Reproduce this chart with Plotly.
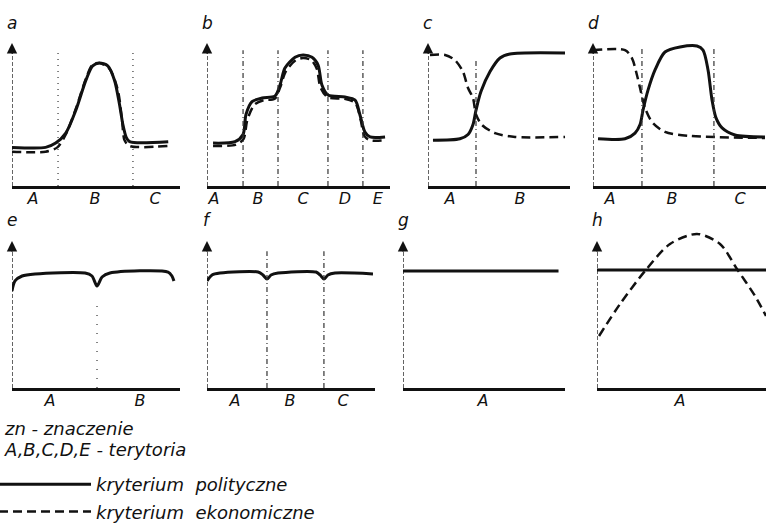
import plotly.graph_objects as go

W, H = 766, 526

# ---------------- data (value units: 0..10 along each small axis) ----------------
panel_names = ["a", "b", "c", "d", "e", "f", "g", "h"]

a_x = [0, 2.0, 2.6, 3.2, 3.8, 4.4, 4.8, 5.2, 5.7, 6.1, 6.4, 6.6, 6.8, 7.0, 9.3]
a_pol = [2.7, 2.7, 3.0, 3.7, 5.3, 7.4, 8.4, 8.6, 8.4, 7.4, 5.7, 4.3, 3.4, 3.1, 3.1]
a_eco_x = [0, 2.0, 2.7, 3.2, 3.8, 4.4, 4.8, 5.2, 5.8, 6.3, 6.55, 6.7, 7.0, 9.3]
a_eco = [2.4, 2.4, 2.7, 3.6, 5.4, 7.5, 8.5, 8.6, 8.2, 6.7, 4.6, 3.2, 2.8, 2.8]
a_sep = [2.74, 7.2]
a_ticks = [1.25, 4.94, 8.51]
a_labels = ["A", "B", "C"]

b_x = [0.33, 1.53, 1.97, 2.13, 2.46, 3.01, 3.72, 3.99, 4.26, 4.81, 5.25, 5.74, 6.07, 6.28, 6.61, 7.54, 8.09, 8.36, 8.63, 8.91, 9.73]
b_pol = [3.0, 3.1, 3.6, 5.0, 5.9, 6.15, 6.3, 7.06, 8.25, 9.0, 9.16, 9.0, 8.46, 7.06, 6.36, 6.22, 6.01, 4.97, 3.78, 3.43, 3.43]
b_eco_x = [0.33, 1.6, 2.0, 2.2, 2.6, 3.1, 3.7, 4.0, 4.3, 4.85, 5.25, 5.7, 6.0, 6.2, 6.6, 7.5, 8.1, 8.4, 8.6, 8.9, 9.8]
b_eco = [2.8, 2.9, 3.3, 4.6, 5.7, 6.0, 6.1, 6.9, 8.0, 8.8, 8.95, 8.8, 8.2, 6.9, 6.2, 6.1, 5.8, 4.6, 3.5, 3.2, 3.2]
b_sep = [1.97, 3.88, 6.61, 8.52]
b_ticks = [0.38, 2.79, 5.25, 7.54, 9.34]
b_labels = ["A", "B", "C", "D", "E"]

c_x = [0.35, 2.25, 2.82, 3.17, 3.38, 3.73, 4.37, 5.07, 5.77, 9.65]
c_pol = [3.2, 3.3, 3.6, 4.3, 5.3, 6.6, 8.0, 8.95, 9.23, 9.3]
c_eco_x = [0.14, 1.2, 1.9, 2.46, 2.82, 3.17, 3.38, 3.8, 4.72, 6.13, 9.65]
c_eco = [9.16, 9.16, 8.8, 8.0, 6.85, 6.15, 5.0, 4.27, 3.7, 3.43, 3.43]
c_sep = [3.38]
c_ticks = [1.55, 6.48]
c_labels = ["A", "B"]

d_x = [0.29, 1.85, 2.43, 2.72, 2.89, 3.18, 3.58, 4.16, 5.03, 6.01, 6.36, 6.65, 6.88, 7.11, 7.46, 8.21, 9.94]
d_pol = [3.3, 3.3, 3.7, 4.3, 5.3, 6.7, 8.1, 9.37, 9.72, 9.79, 9.51, 8.11, 6.01, 4.76, 4.06, 3.57, 3.43]
d_eco_x = [0, 1.85, 2.25, 2.54, 2.72, 3.01, 3.41, 4.16, 5.61, 9.94]
d_eco = [9.5, 9.5, 8.95, 7.76, 6.85, 5.45, 4.48, 3.78, 3.5, 3.36]
d_sep = [2.83, 6.99]
d_ticks = [0.98, 4.57, 8.5]
d_labels = ["A", "B", "C"]

e_x = [0, 0.18, 0.6, 1.37, 4.35, 4.76, 5.06, 5.36, 5.83, 9.29, 9.52, 9.64]
e_pol = [6.6, 7.28, 7.62, 7.76, 7.82, 7.62, 6.94, 7.55, 7.82, 7.89, 7.62, 7.28]
e_sep = [5.06]
e_ticks = [2.26, 7.62]
e_labels = ["A", "B"]

f_x = [0, 0.3, 0.77, 3.04, 3.33, 3.57, 3.81, 4.23, 6.49, 6.73, 6.96, 7.2, 7.62, 9.88]
f_pol = [7.28, 7.69, 7.82, 7.89, 7.69, 7.41, 7.69, 7.82, 7.89, 7.69, 7.41, 7.69, 7.82, 7.76]
f_sep = [3.57, 6.96]
f_ticks = [1.67, 4.94, 8.1]
f_labels = ["A", "B", "C"]

g_x = [0, 9.6]
g_pol = [7.96, 7.96]
g_ticks = [4.94]
g_labels = ["A"]

h_x = [0, 10]
h_pol = [8.03, 8.03]
h_eco_x = [0.12, 1.36, 2.84, 4.32, 5.92, 7.28, 8.28, 9.35, 10.0]
h_eco = [3.54, 5.71, 7.96, 9.8, 10.48, 9.8, 8.1, 6.26, 4.9]
h_ticks = [4.91]
h_labels = ["A"]

legend_names = ["kryterium  polityczne", "kryterium  ekonomiczne"]
notes = ["zn - znaczenie", "A,B,C,D,E - terytoria"]

# ---------------- layout geometry (pixels) ----------------
rows_px = {1: (186, 14.3), 2: (388, 14.7)}  # baseline, px per unit
panels = [
    dict(name="a", row=1, x0=12, x1=180, pol=(a_x, a_pol), eco=(a_eco_x, a_eco), sep=a_sep, septop=9.4, ticks=(a_ticks, a_labels), sepdash="1px,5px"),
    dict(name="b", row=1, x0=207, x1=390, pol=(b_x, b_pol), eco=(b_eco_x, b_eco), sep=b_sep, septop=9.5, ticks=(b_ticks, b_labels), sepdash="5px,3px,1px,3px"),
    dict(name="c", row=1, x0=428, x1=570, pol=(c_x, c_pol), eco=(c_eco_x, c_eco), sep=c_sep, septop=8.8, ticks=(c_ticks, c_labels), sepdash="5px,3px,1px,3px"),
    dict(name="d", row=1, x0=593, x1=766, pol=(d_x, d_pol), eco=(d_eco_x, d_eco), sep=d_sep, septop=9.6, ticks=(d_ticks, d_labels), sepdash="5px,3px,1px,3px"),
    dict(name="e", row=2, x0=12, x1=180, pol=(e_x, e_pol), eco=None, sep=e_sep, septop=5.8, ticks=(e_ticks, e_labels), sepdash="1px,8px"),
    dict(name="f", row=2, x0=207, x1=375, pol=(f_x, f_pol), eco=None, sep=f_sep, septop=9.3, ticks=(f_ticks, f_labels), sepdash="5px,3px,1px,3px"),
    dict(name="g", row=2, x0=403, x1=565, pol=(g_x, g_pol), eco=None, sep=[], septop=9, ticks=(g_ticks, g_labels), sepdash="dash"),
    dict(name="h", row=2, x0=597, x1=766, pol=(h_x, h_pol), eco=(h_eco_x, h_eco), sep=[], septop=9, ticks=(h_ticks, h_labels), sepdash="dash"),
]

FONT = "DejaVu Sans"
INK = "#111111"
LBL = dict(family=FONT, size=16, color=INK, style="italic")
TXT = dict(family=FONT, size=18, color=INK, style="italic")

fig = go.Figure()
layout = dict(
    width=W, height=H, margin=dict(l=0, r=0, t=0, b=0, autoexpand=False),
    paper_bgcolor="white", plot_bgcolor="white",
    font=LBL,
    showlegend=True,
    legend=dict(x=-6 / W, y=1 - 466 / H, xanchor="left", yanchor="top",
                font=TXT, itemwidth=92, tracegroupgap=1, bgcolor="rgba(0,0,0,0)"),
)
shapes, annotations = [], []
shown = {"pol": False, "eco": False}

for i, p in enumerate(panels, start=1):
    base, scale = rows_px[p["row"]]
    top_px = base - 12 * scale
    xa = "xaxis" if i == 1 else f"xaxis{i}"
    ya = "yaxis" if i == 1 else f"yaxis{i}"
    xr = "x" if i == 1 else f"x{i}"
    yr = "y" if i == 1 else f"y{i}"
    layout[xa] = dict(domain=[p["x0"] / W, p["x1"] / W], range=[0, 10], anchor=yr,
                      showgrid=False, zeroline=False, showline=True, linewidth=2.5, linecolor=INK,
                      tickvals=p["ticks"][0], ticktext=p["ticks"][1], ticks="",
                      ticklabelstandoff=-4, automargin=False,
                      tickfont=LBL, fixedrange=True)
    layout[ya] = dict(domain=[1 - base / H, 1 - top_px / H], range=[0, 12], anchor=xr,
                      showgrid=False, zeroline=False, showline=False, showticklabels=False,
                      automargin=False, fixedrange=True)

    px_, py_ = p["pol"]
    fig.add_trace(go.Scatter(x=px_, y=py_, xaxis=xr, yaxis=yr, mode="lines",
                             line=dict(color=INK, width=3, shape="spline", smoothing=0.8),
                             name=legend_names[0], legendgroup="pol",
                             showlegend=not shown["pol"], hoverinfo="skip"))
    shown["pol"] = True
    if p["eco"] is not None:
        ex, ey = p["eco"]
        fig.add_trace(go.Scatter(x=ex, y=ey, xaxis=xr, yaxis=yr, mode="lines",
                                 line=dict(color=INK, width=2.5, dash="9px,5px", shape="spline", smoothing=0.8),
                                 name=legend_names[1], legendgroup="eco",
                                 showlegend=not shown["eco"], hoverinfo="skip"))
        shown["eco"] = True

    # vertical axis (dashed) with arrow
    shapes.append(dict(type="line", xref=xr, yref=yr, x0=0, x1=0, y0=0, y1=9.8,
                       line=dict(color=INK, width=1.3, dash="4px,2px")))
    annotations.append(dict(xref=xr, yref=yr, x=0, y=10, ax=0, ay=12, text="", showarrow=True,
                            arrowhead=2, arrowsize=1.3, arrowwidth=1.6, arrowcolor=INK))
    # panel letter
    annotations.append(dict(xref=xr, yref=yr, x=0, y=11.4, text=p["name"], showarrow=False,
                            xanchor="center", yanchor="middle", font=dict(LBL, size=17)))
    # separators between territories
    for s in p["sep"]:
        shapes.append(dict(type="line", xref=xr, yref=yr, x0=s, x1=s, y0=0, y1=p["septop"],
                           line=dict(color="#333333", width=1.2, dash=p["sepdash"])))

for k, t in enumerate(notes):
    annotations.append(dict(xref="paper", yref="paper", x=2 / W, y=1 - (428 + 21 * k) / H,
                            text=t, showarrow=False, xanchor="left", yanchor="middle",
                            font=TXT))

layout["shapes"] = shapes
layout["annotations"] = annotations
fig.update_layout(**layout)
fig.write_html("out.html", config={"displayModeBar": False},
               post_script="document.body.style.margin='0';")
